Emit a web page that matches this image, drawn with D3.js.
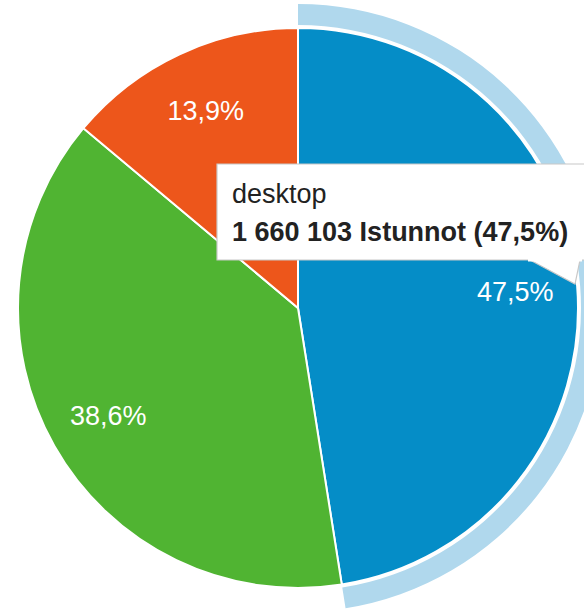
<!DOCTYPE html>
<html><head><meta charset="utf-8">
<script src="https://cdn.jsdelivr.net/npm/d3@7"></script>
<style>html,body{margin:0;padding:0;background:#fff;}svg{display:block;}</style>
</head><body>
<script>
const categories = ["desktop", "mobile", "tablet"];
const shares = [47.5, 38.6, 13.9];
const colors = ["#058dc7", "#50b432", "#ed561b"];
const sessions = [1660103];
const metricName = "Istunnot";
const highlighted = 0;

const W = 584, H = 611;
const cx = 298, cy = 308, R = 280;
const fmtPct = v => v.toFixed(1).replace(".", ",") + "%";
const fmtNum = v => d3.format(",")(v).replace(/,/g, " ");

const svg = d3.select("body").append("svg").attr("width", W).attr("height", H);
const g = svg.append("g").attr("transform", `translate(${cx},${cy})`);

const pie = d3.pie().sort(null).value(d => d)(shares);
const arc = d3.arc().innerRadius(0).outerRadius(R);
const ring = d3.arc().innerRadius(R + 3).outerRadius(R + 24);
const labelArc = d3.arc().innerRadius(218).outerRadius(218);

g.append("path").attr("d", ring(pie[highlighted])).attr("fill", "#b0d8ed");

g.selectAll("path.slice").data(pie).join("path").attr("class", "slice")
  .attr("d", arc).attr("fill", (d, i) => colors[i])
  .attr("stroke", "#fff").attr("stroke-width", 2);

g.selectAll("text.lbl").data(pie).join("text").attr("class", "lbl")
  .attr("transform", d => `translate(${labelArc.centroid(d)})`)
  .attr("text-anchor", "middle").attr("dy", "0.36em")
  .attr("font-family", "Liberation Sans, Arial, sans-serif").attr("font-size", 27)
  .attr("fill", "#fff").text(d => fmtPct(d.data));

// tooltip
const tip = svg.append("g");
const bx = 217, by = 164, bw = 380, bh = 96;
tip.append("path")
  .attr("d", `M${bx},${by}H${bx + bw}V${by + bh}H580L575,284L530,${by + bh}H${bx}Z`)
  .attr("fill", "#fff").attr("stroke", "#c8c8c8").attr("stroke-width", 1.2);
tip.append("rect").attr("x", 528).attr("y", by + bh - 1.5).attr("width", 54).attr("height", 3).attr("fill", "#fff");
tip.append("text").attr("x", 232).attr("y", 203)
  .attr("font-family", "Liberation Sans, Arial, sans-serif").attr("font-size", 27).attr("fill", "#222")
  .text(categories[highlighted]);
tip.append("text").attr("x", 232).attr("y", 241)
  .attr("font-family", "Liberation Sans, Arial, sans-serif").attr("font-size", 27).attr("font-weight", "bold").attr("fill", "#222")
  .text(`${fmtNum(sessions[0])} ${metricName} (${fmtPct(shares[highlighted])})`);
</script>
</body></html>
